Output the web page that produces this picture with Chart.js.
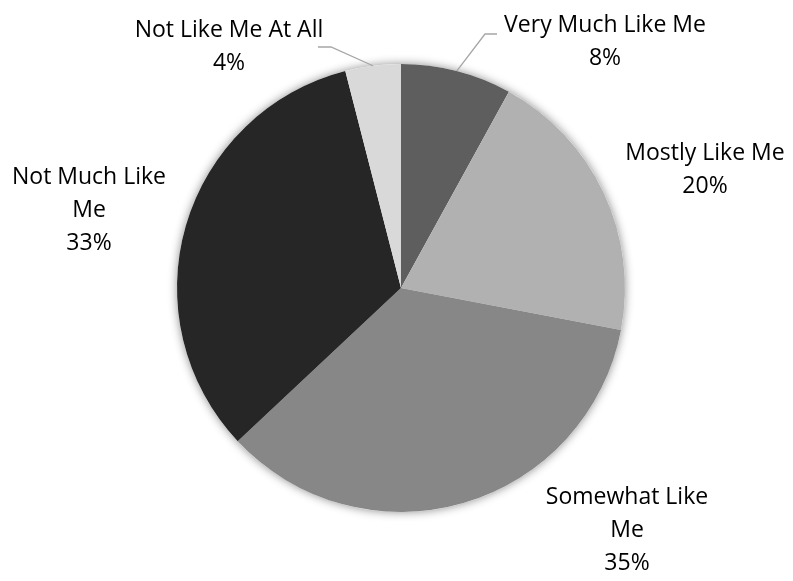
<!DOCTYPE html>
<html>
<head>
<meta charset="utf-8">
<script src="https://cdn.jsdelivr.net/npm/chart.js@4"></script>
<style>
  html, body { margin: 0; padding: 0; background: #fff; }
  #wrap { width: 793px; height: 581px; }
</style>
</head>
<body>
<div id="wrap"><canvas id="pieChart"></canvas></div>
<script>
let categories = ["Very Much Like Me", "Mostly Like Me", "Somewhat Like Me", "Not Much Like Me", "Not Like Me At All"];
let shares = [8, 20, 35, 33, 4];
let sliceColors = ["#5e5e5e", "#b1b1b1", "#878787", "#262626", "#d9d9d9"];

// label text lines and where they sit; leader = draw a connector to the slice
let labelLines = [
    ["Very Much Like Me"],
    ["Mostly Like Me"],
    ["Somewhat Like", "Me"],
    ["Not Much Like", "Me"],
    ["Not Like Me At All"]
];
let labelPos = [
    { x: 605, y: 25, leader: [497, 34, 485, 34] },
    { x: 705, y: 153 },
    { x: 627, y: 497 },
    { x: 89, y: 177 },
    { x: 229, y: 30, leader: [318, 47, 331, 47] }
];

const FONT = "23px 'Open Sans', sans-serif";
const LINE_H = 33;

// soft shadow under the whole pie
let pieShadow = {
    id: "pieShadow",
    beforeDatasetsDraw(chart) {
        let arc = chart.getDatasetMeta(0).data[0];
        let ctx = chart.ctx;
        ctx.save();
        ctx.shadowColor = "rgba(0,0,0,0.45)";
        ctx.shadowBlur = 10;
        ctx.fillStyle = "#fff";
        ctx.beginPath();
        ctx.arc(arc.x, arc.y, arc.outerRadius, 0, Math.PI * 2);
        ctx.fill();
        ctx.restore();
    }
};

let pieLabels = {
    id: "pieLabels",
    afterDatasetsDraw(chart) {
        let ctx = chart.ctx;
        let meta = chart.getDatasetMeta(0);
        ctx.save();
        ctx.font = FONT;
        ctx.fillStyle = "#000";
        ctx.textAlign = "center";
        ctx.textBaseline = "middle";
        labelPos.forEach((p, i) => {
            let lines = labelLines[i].concat([shares[i] + "%"]);
            lines.forEach((t, j) => ctx.fillText(t, p.x, p.y + j * LINE_H));
            if (p.leader) {
                let arc = meta.data[i];
                let mid = (arc.startAngle + arc.endAngle) / 2;
                let ex = arc.x + Math.cos(mid) * arc.outerRadius;
                let ey = arc.y + Math.sin(mid) * arc.outerRadius;
                ctx.strokeStyle = "#a6a6a6";
                ctx.lineWidth = 1.3;
                ctx.beginPath();
                ctx.moveTo(p.leader[0], p.leader[1]);
                ctx.lineTo(p.leader[2], p.leader[3]);
                ctx.lineTo(ex, ey);
                ctx.stroke();
            }
        });
        ctx.restore();
    }
};

let pieCtx = document.getElementById("pieChart").getContext("2d");
let pieChart = new Chart(pieCtx, {
    type: "pie",
    data: {
        labels: categories,
        datasets: [{
            data: shares,
            backgroundColor: sliceColors,
            borderWidth: 0
        }]
    },
    options: {
        responsive: true,
        maintainAspectRatio: false,
        animation: false,
        layout: { padding: { left: 177, right: 168, top: 64, bottom: 69 } },
        plugins: {
            legend: { display: false },
            tooltip: { enabled: false }
        }
    },
    plugins: [pieShadow, pieLabels]
});
</script>
</body>
</html>
